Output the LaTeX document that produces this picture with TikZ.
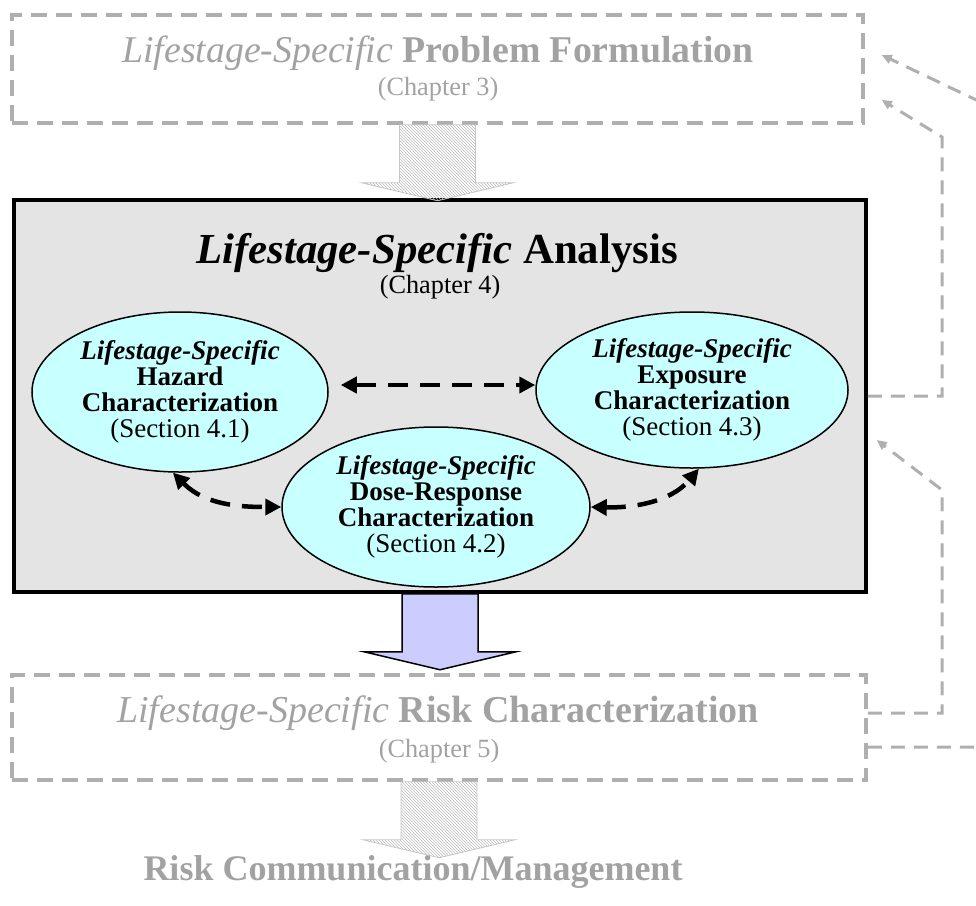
\documentclass[tikz,border=0pt]{standalone}
\usepackage{fontspec}
\setmainfont{Liberation Serif}
\usepackage{xcolor}
\usepackage{tikz}
\definecolor{boxgray}{RGB}{228,228,228}
\definecolor{ovalcyan}{RGB}{200,255,255}
\definecolor{arrowlilac}{RGB}{204,204,255}
\definecolor{fadegray}{RGB}{162,162,162}
\definecolor{linegray}{RGB}{175,175,175}
\usetikzlibrary{shapes.geometric, patterns, arrows.meta}

\tikzset{
	ghostbox/.style={draw=linegray, line width=3.5pt, dash pattern=on 16pt off 9pt, inner sep=0pt},
	oval/.style={draw, ellipse, fill=ovalcyan, line width=1.5pt, align=center, inner sep=0pt, font=\fontsize{27}{26}\selectfont},
	twoway/.style={<->, >={Triangle[length=16pt,width=16pt]}, line width=4.5pt, dash pattern=on 20pt off 12pt},
	feedback/.style={-{Triangle[length=10pt,width=9pt]}, draw=linegray, line width=3pt, dash pattern=on 14pt off 9pt},
	downarrow/.pic={\path[pic actions] (-38,0) -- (38,0) -- (38,58) -- (76,58) -- (0,76) -- (-76,58) -- (-38,58) -- cycle;}
}

\begin{document}
\begin{tikzpicture}[x=1pt, y=-1pt]
	\useasboundingbox (0,0) rectangle (976,905);
	\clip (0,0) rectangle (976,905);

	\node[ghostbox, minimum width=851pt, minimum height=108pt] (prob) at (437.5,69) {};
	
	\node[anchor=base, text=fadegray, font=\fontsize{37.8}{40}\selectfont] (probtitle) at (438,62) {\textit{Lifestage-Specific} \textbf{Problem Formulation}};
	
	\node[anchor=base, text=fadegray, font=\fontsize{26.3}{28}\selectfont] (probchap) at (438,95) {(Chapter 3)};
	
	\node[draw, line width=3.5pt, fill=boxgray, minimum width=852pt, minimum height=392pt, inner sep=0pt] (analysis) at (440,396) {};
	
	\node[anchor=base, font=\fontsize{42.8}{44}\selectfont] (antitle) at (437,263) {\textbf{\textit{Lifestage-Specific}} \textbf{Analysis}};
	
	\node[anchor=base, font=\fontsize{26.3}{28}\selectfont] (anchap) at (440,293) {(Chapter 4)};
	
	\node[oval, minimum width=296pt, minimum height=160pt] (hazard) at (180,392) {\textbf{\textit{Lifestage-Specific}}\\\textbf{Hazard}\\\textbf{Characterization}\\(Section 4.1)};
	
	\node[oval, minimum width=312pt, minimum height=156pt] (expo) at (692,390) {\textbf{\textit{Lifestage-Specific}}\\\textbf{Exposure}\\\textbf{Characterization}\\(Section 4.3)};
	
	\node[oval, minimum width=308pt, minimum height=160pt] (dose) at (436,507) {\textbf{\textit{Lifestage-Specific}}\\\textbf{Dose-Response}\\\textbf{Characterization}\\(Section 4.2)};
	
	\node[ghostbox, minimum width=854pt, minimum height=105pt] (riskchar) at (439,727.5) {};
	
	\node[anchor=base, text=fadegray, font=\fontsize{38}{40}\selectfont] (rctitle) at (438,722) {\textit{Lifestage-Specific} \textbf{Risk Characterization}};
	
	\node[anchor=base, text=fadegray, font=\fontsize{26.3}{28}\selectfont] (rcchap) at (439,757) {(Chapter 5)};
	
	\node[anchor=base, text=fadegray, font=\bfseries\fontsize{36}{40}\selectfont] (riskcomm) at (413,880) {Risk Communication/Management};
	
	\pic[pattern=north west lines, pattern color=gray!55, draw=gray!45, line width=0.8pt] at (prob.south) {downarrow};
	
	\pic[fill=arrowlilac, draw, line width=1.5pt] at (analysis.south) {downarrow};
	
	\pic[pattern=north west lines, pattern color=gray!55, draw=gray!45, line width=0.8pt] at (riskchar.south) {downarrow};
	
	\draw[twoway, shorten <=12pt] ([yshift=7pt]hazard.east) -- ([yshift=5pt]expo.west);
	
	\draw[twoway] (hazard.-95) .. controls (205,505) and (240,507) .. (dose.west);
	
	\draw[twoway] (dose.east) .. controls (630,508) and (670,503) .. (expo.-85);
	
	\draw[feedback] (analysis.east) -- (942,396) -- (942,137) -- ([xshift=17pt,yshift=-31pt]prob.east);
	
	\draw[feedback] ([yshift=14.5pt]riskchar.east) -- (942,713) -- (942,490) -- ([xshift=9pt,yshift=-44pt]analysis.east);
	
	\draw[feedback] ([yshift=-19.5pt]riskchar.east) -- (1010,747) -- (1010,116) -- ([xshift=17pt,yshift=14pt]prob.east);
\end{tikzpicture}
\end{document}
